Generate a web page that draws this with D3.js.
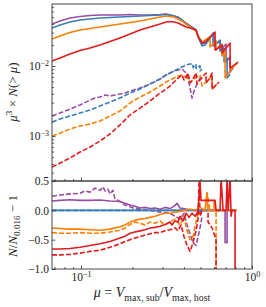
<!DOCTYPE html>
<html lang="en">
<head>
<meta charset="UTF-8">
<title>Subhalo velocity function</title>
<script src="https://d3js.org/d3.v7.min.js"></script>
<style>
    body { margin: 0; background: #fff; }
    text { font-family: "Liberation Serif", "DejaVu Serif", serif; fill: #222; }
</style>
</head>
<body>
<div id="chart"></div>
<script>
// [mu, mu^3 N(>mu)] solid = all subhaloes, dashed = second sample
const solidPurple = [[0.0677,0.0398],[0.0754,0.0439],[0.0862,0.0485],[0.0987,0.0509],[0.1129,0.0526],[0.1292,0.0535],[0.1478,0.0535],[0.1691,0.0535],[0.1935,0.0544],[0.2214,0.0535],[0.2533,0.0535],[0.29,0.0544],[0.3144,0.0553],[0.3318,0.0535],[0.3501,0.0518],[0.3694,0.0501],[0.3899,0.0454],[0.4115,0.0411],[0.4343,0.0373],[0.4709,0.0327],[0.4836,0.0268],[0.5105,0.0206],[0.5316,0.0213],[0.5535,0.0235],[0.5841,0.0277],[0.6,0.0296],[0.6,0.01995],[0.6333,0.022],[0.6506,0.0235],[0.6506,0.0169],[0.6866,0.0193],[0.7053,0.0206],[0.7053,0.0114],[0.7445,0.01345],[0.7445,0.00821],[0.775,0.00936]];
const solidBlue = [[0.0677,0.0349],[0.0754,0.0385],[0.0862,0.0425],[0.0987,0.0454],[0.1129,0.0469],[0.1292,0.0485],[0.1478,0.0493],[0.1691,0.0501],[0.1935,0.0509],[0.2214,0.0518],[0.2533,0.0526],[0.29,0.0535],[0.3144,0.0544],[0.3318,0.0535],[0.3501,0.0518],[0.3694,0.0493],[0.3899,0.0454],[0.4115,0.0405],[0.4343,0.0373],[0.4709,0.0327],[0.4836,0.026],[0.5105,0.0193],[0.5316,0.01995],[0.5535,0.0228],[0.5841,0.0277],[0.592,0.0296],[0.592,0.0193],[0.6248,0.0213],[0.6506,0.0228],[0.6506,0.0164],[0.6866,0.0181],[0.6866,0.0114],[0.715,0.013],[0.715,0.00674],[0.7445,0.00769]];
const solidOrange = [[0.0677,0.0243],[0.0754,0.0268],[0.0862,0.0301],[0.0987,0.0327],[0.1129,0.0343],[0.1292,0.0361],[0.1478,0.0379],[0.1691,0.0398],[0.1935,0.0418],[0.2214,0.0439],[0.2533,0.0469],[0.29,0.0501],[0.3144,0.0518],[0.3318,0.0509],[0.3501,0.0501],[0.3694,0.0469],[0.3899,0.0439],[0.4115,0.0398],[0.4343,0.0361],[0.4709,0.0316],[0.4836,0.0268],[0.5105,0.022],[0.5316,0.0235],[0.5686,0.026],[0.5686,0.0187],[0.6,0.0213],[0.6165,0.0228],[0.6165,0.0169],[0.6506,0.0193],[0.6683,0.0206],[0.6683,0.0139],[0.696,0.01585],[0.696,0.00674],[0.7445,0.00849],[0.7856,0.01],[0.8182,0.011]];
const solidRed = [[0.0677,0.0118],[0.0754,0.013],[0.0862,0.0148],[0.0987,0.0167],[0.1129,0.0181],[0.1292,0.01995],[0.1478,0.0224],[0.1691,0.0251],[0.1935,0.0286],[0.2214,0.0327],[0.2533,0.0361],[0.29,0.0398],[0.3144,0.0425],[0.3318,0.0432],[0.3501,0.0425],[0.3694,0.0411],[0.3899,0.0385],[0.4115,0.0361],[0.4343,0.0349],[0.4709,0.0327],[0.4836,0.0268],[0.5105,0.0213],[0.5316,0.022],[0.5686,0.026],[0.6082,0.0306],[0.6082,0.0169],[0.6419,0.0187],[0.6683,0.01995],[0.6683,0.0153],[0.7053,0.0181],[0.7445,0.0213],[0.7445,0.00936],[0.7856,0.0103],[0.8293,0.0114]];

const dashedPurple = [[0.0677,0.00193],[0.0754,0.00213],[0.0862,0.00243],[0.0987,0.00277],[0.1129,0.00327],[0.1207,0.00349],[0.1292,0.00361],[0.1381,0.00385],[0.1478,0.00373],[0.158,0.00385],[0.1691,0.00398],[0.1809,0.00411],[0.1935,0.00439],[0.2214,0.00485],[0.2533,0.00553],[0.29,0.00652],[0.3144,0.00744],[0.3318,0.00794],[0.3501,0.00849],[0.3694,0.00877],[0.3899,0.00906],[0.4115,0.00794],[0.4227,0.00674],[0.4343,0.00485],[0.4461,0.00349],[0.4582,0.00439],[0.4709,0.00518],[0.4836,0.00591],[0.4968,0.00674],[0.5105,0.0072]];
const dashedBlue = [[0.0677,0.00158],[0.0754,0.00175],[0.0862,0.00193],[0.0987,0.00213],[0.1129,0.00235],[0.1292,0.00268],[0.1478,0.00306],[0.1691,0.00349],[0.1935,0.00411],[0.2214,0.00469],[0.2533,0.00553],[0.29,0.00652],[0.3144,0.00744],[0.3318,0.00794],[0.3501,0.00849],[0.3694,0.00906],[0.3899,0.00968],[0.4115,0.01033],[0.4343,0.01068],[0.4521,0.0107],[0.4521,0.0095],[0.4709,0.0105],[0.4709,0.0092],[0.4968,0.0101],[0.4968,0.0085],[0.5105,0.009]];
const dashedOrange = [[0.0677,0.001],[0.0754,0.0011],[0.0862,0.00126],[0.0987,0.00139],[0.1129,0.00148],[0.1292,0.00164],[0.1478,0.00193],[0.1691,0.00228],[0.1935,0.00296],[0.2214,0.00361],[0.2533,0.00425],[0.29,0.00518],[0.3144,0.00591],[0.3318,0.00631],[0.3501,0.00674],[0.3694,0.0072],[0.3899,0.00744],[0.4115,0.00696],[0.4343,0.00591],[0.4582,0.00652],[0.4836,0.0072],[0.4968,0.00744],[0.5105,0.00518],[0.5389,0.00591],[0.5686,0.00674],[0.5841,0.0072],[0.5841,0.00469],[0.6082,0.00518],[0.6248,0.00553]];
const dashedRed = [[0.0677,0.000361],[0.0754,0.000411],[0.0862,0.000485],[0.0987,0.000591],[0.1129,0.000696],[0.1292,0.000849],[0.1478,0.00107],[0.1691,0.00144],[0.1935,0.002],[0.2214,0.00251],[0.2533,0.00316],[0.29,0.00411],[0.3144,0.00469],[0.3318,0.00518],[0.3501,0.00591],[0.3694,0.00674],[0.3899,0.00744],[0.4006,0.00631],[0.4115,0.00696],[0.4227,0.00794],[0.4343,0.00572],[0.4521,0.00652],[0.4709,0.00794],[0.4772,0.00553],[0.4968,0.00631],[0.5246,0.00744],[0.5389,0.00794],[0.5389,0.00572],[0.561,0.00652],[0.5841,0.00794],[0.5841,0.00469],[0.6165,0.00535],[0.6419,0.00591]];

// [mu, N/N_0.016 - 1]
const ratioPurple = [[0.0677,0.16],[0.0754,0.17],[0.0862,0.18],[0.0987,0.17],[0.1129,0.17],[0.1292,0.175],[0.1478,0.16],[0.1691,0.15],[0.1809,0.12],[0.1935,0.09],[0.207,0.07],[0.2214,0.04],[0.2368,0.05],[0.2533,0.03],[0.271,0.04],[0.29,0.02],[0.3102,0.05],[0.3318,0.03],[0.3548,0.08],[0.3644,0.12],[0.3796,0.04],[0.4115,0.02],[0.4343,0.01],[0.4709,0],[0.696,0],[0.696,-0.55],[0.715,-0.55],[0.715,0],[0.7647,0]];
const ratioPurpleDashed = [[0.0677,0.24],[0.0754,0.26],[0.0862,0.28],[0.0987,0.29],[0.1055,0.33],[0.1129,0.31],[0.1207,0.38],[0.1292,0.34],[0.1345,0.4],[0.1381,0.33],[0.1438,0.36],[0.1478,0.28],[0.1538,0.34],[0.158,0.2],[0.1691,0.15],[0.1809,0.09],[0.1935,0.06],[0.207,0.03],[0.2214,0.02],[0.2533,0],[0.29,-0.03],[0.3318,-0.05],[0.3548,-0.1],[0.3796,-0.15],[0.4006,-0.05],[0.4172,-0.25],[0.4343,-0.4],[0.4521,-0.55],[0.4709,-0.6],[0.4836,-0.45],[0.4968,-0.3],[0.5105,-0.1]];
const ratioBlue = [[0.0677,0],[0.8071,0]];
const ratioBlueDashed = [[0.0677,0],[0.5105,0]];
const ratioOrange = [[0.0677,-0.3],[0.0754,-0.31],[0.0862,-0.32],[0.0987,-0.32],[0.1129,-0.33],[0.1292,-0.34],[0.1478,-0.32],[0.1691,-0.28],[0.1809,-0.25],[0.1935,-0.2],[0.207,-0.17],[0.2214,-0.15],[0.2368,-0.14],[0.2533,-0.12],[0.271,-0.1],[0.29,-0.07],[0.3102,-0.05],[0.3318,-0.05],[0.3548,-0.03],[0.3796,-0.02],[0.4061,0],[0.4343,0.02],[0.4647,0],[0.4968,0.05],[0.5316,0],[0.5461,0.3],[0.5535,0],[0.6,0],[0.6,0.15],[0.6082,0.15],[0.6082,0],[0.8182,0]];
const ratioOrangeDashed = [[0.0677,-0.38],[0.0754,-0.39],[0.0862,-0.39],[0.0987,-0.38],[0.1129,-0.39],[0.1292,-0.39],[0.1478,-0.37],[0.1691,-0.34],[0.1809,-0.3],[0.1935,-0.24],[0.207,-0.2],[0.2214,-0.22],[0.2368,-0.25],[0.2533,-0.2],[0.271,-0.22],[0.29,-0.18],[0.3102,-0.25],[0.3318,-0.2],[0.3548,-0.15],[0.3796,-0.25],[0.4006,-0.1],[0.4172,-0.35],[0.4343,-0.5],[0.4521,-0.45],[0.4709,-0.2],[0.4836,-0.05],[0.4968,0],[0.5316,0],[0.5461,0.3],[0.5686,0],[0.6165,0],[0.6165,-1.1]];
const ratioRed = [[0.0677,-0.66],[0.0754,-0.66],[0.0862,-0.65],[0.0987,-0.63],[0.1129,-0.6],[0.1292,-0.57],[0.1478,-0.53],[0.1691,-0.47],[0.1809,-0.44],[0.1935,-0.39],[0.207,-0.37],[0.2214,-0.35],[0.2368,-0.33],[0.2533,-0.3],[0.271,-0.29],[0.29,-0.27],[0.3102,-0.24],[0.3318,-0.2],[0.3407,-0.25],[0.3548,-0.18],[0.3694,-0.2],[0.3796,-0.1],[0.3953,-0.18],[0.4115,-0.05],[0.4284,-0.12],[0.4461,-0.05],[0.4647,-0.1],[0.4836,-0.02],[0.4968,0.48],[0.5037,0.17],[0.6082,0.17],[0.6165,0],[0.6506,0],[0.6594,0.55],[0.6776,0],[0.7053,0],[0.715,0.55],[0.7247,0],[0.7445,0.55],[0.7545,-0.1],[0.7647,0],[0.7963,0],[0.7963,-1.1]];
const ratioRedDashed = [[0.0677,-0.76],[0.0754,-0.76],[0.0862,-0.75],[0.0987,-0.73],[0.1129,-0.7],[0.1292,-0.68],[0.1478,-0.63],[0.1691,-0.57],[0.1809,-0.53],[0.1935,-0.5],[0.207,-0.47],[0.2214,-0.45],[0.2368,-0.42],[0.2533,-0.4],[0.271,-0.38],[0.29,-0.38],[0.3102,-0.35],[0.3318,-0.33],[0.3548,-0.3],[0.3694,-0.35],[0.3848,-0.25],[0.4006,-0.45],[0.4172,-0.6],[0.4343,-0.7],[0.4521,-0.55],[0.4709,-0.35],[0.4836,-0.15],[0.4902,0.5],[0.4968,-0.1],[0.5105,0],[0.5535,0],[0.5535,-0.2],[0.5841,-0.3],[0.6165,-0.5],[0.6165,-1.1]];

const xTicksMajor = [0.1, 1];
const xTicksMinor = [0.07, 0.08, 0.09, 0.2, 0.3, 0.4, 0.5, 0.6, 0.7, 0.8, 0.9];
const yTopMajor = [1e-3, 1e-2];
const yTopMinor = [3e-4, 4e-4, 5e-4, 6e-4, 7e-4, 8e-4, 9e-4, 2e-3, 3e-3, 4e-3, 5e-3, 6e-3, 7e-3, 8e-3, 9e-3, 2e-2, 3e-2, 4e-2, 5e-2, 6e-2, 7e-2];
const yBotMajor = [-1.0, -0.5, 0.0, 0.5];

const colors = { purple: "#984ea3", blue: "#377eb8", orange: "#ff7f00", red: "#e41a1c" };

const W = 266, H = 307;
const xLeft = 52, xRight = 252, yTopEdge = 4, yMid = 181, yBottom = 269;

const svg = d3.select("#chart").append("svg").attr("width", W).attr("height", H);

const x = d3.scaleLog().domain([0.0677, 1.0]).range([xLeft, xRight]);
const yTop = d3.scaleLog().domain([2.28e-4, 0.0769]).range([yMid, yTopEdge]);
const yBot = d3.scaleLinear().domain([-1.0, 0.5]).range([yBottom, yMid]);

const defs = svg.append("defs");
defs.append("clipPath").attr("id", "clipTop").append("rect")
    .attr("x", xLeft).attr("y", yTopEdge).attr("width", xRight - xLeft).attr("height", yMid - yTopEdge);
defs.append("clipPath").attr("id", "clipBot").append("rect")
    .attr("x", xLeft).attr("y", yMid).attr("width", xRight - xLeft).attr("height", yBottom - yMid);

// mathtext-like label: parts = [{t, i (italic), sup, sub}]
function mathText(sel, parts, size) {
    let shift = 0;
    parts.forEach(p => {
        const ts = sel.append("tspan").text(p.t);
        const target = p.sup ? -size * 0.4 : p.sub ? size * 0.25 : 0;
        if (target !== shift) { ts.attr("dy", target - shift); shift = target; }
        if (p.sup || p.sub) ts.attr("font-size", size * 0.7);
        if (p.i) ts.attr("font-style", "italic");
    });
}

function drawLines(g, yScale, series) {
    const line = d3.line().x(d => x(d[0])).y(d => yScale(d[1]));
    series.forEach(s => {
        g.append("path")
            .attr("d", line(s.data))
            .attr("fill", "none")
            .attr("stroke", colors[s.c])
            .attr("stroke-width", 1.6)
            .attr("stroke-linejoin", "round")
            .attr("stroke-dasharray", s.dash ? "5,2" : null);
    });
}

const gTop = svg.append("g").attr("clip-path", "url(#clipTop)");
drawLines(gTop, yTop, [
    { data: dashedPurple, c: "purple", dash: true },
    { data: dashedBlue, c: "blue", dash: true },
    { data: dashedOrange, c: "orange", dash: true },
    { data: dashedRed, c: "red", dash: true },
    { data: solidPurple, c: "purple" },
    { data: solidBlue, c: "blue" },
    { data: solidOrange, c: "orange" },
    { data: solidRed, c: "red" }
]);

const gBot = svg.append("g").attr("clip-path", "url(#clipBot)");
drawLines(gBot, yBot, [
    { data: ratioPurpleDashed, c: "purple", dash: true },
    { data: ratioBlueDashed, c: "blue", dash: true },
    { data: ratioOrangeDashed, c: "orange", dash: true },
    { data: ratioRedDashed, c: "red", dash: true },
    { data: ratioPurple, c: "purple" },
    { data: ratioBlue, c: "blue" },
    { data: ratioOrange, c: "orange" },
    { data: ratioRed, c: "red" }
]);

// axes (ticks pointing inward)
function styleAxis(g) {
    g.select(".domain").remove();
    g.selectAll(".tick line").attr("stroke", "#333").attr("stroke-width", 0.8);
    g.attr("font-family", null).attr("font-size", null);
}

const supLabel = e => [{ t: "10" }, { t: e, sup: true }];

// top panel
svg.append("g").attr("transform", `translate(${xLeft},0)`)
    .call(d3.axisLeft(yTop).tickValues(yTopMinor).tickSize(-2).tickFormat(""))
    .call(styleAxis);
svg.append("g").attr("transform", `translate(${xLeft},0)`)
    .call(d3.axisLeft(yTop).tickValues(yTopMajor).tickSize(-3.5).tickPadding(3))
    .call(styleAxis)
    .selectAll(".tick text").text("").attr("font-size", 11.5)
    .each(function(d) { mathText(d3.select(this), supLabel(d === 1e-2 ? "−2" : "−3"), 11.5); });
svg.append("g").attr("transform", `translate(0,${yMid})`)
    .call(d3.axisBottom(x).tickValues(xTicksMinor).tickSize(-2).tickFormat(""))
    .call(styleAxis);
svg.append("g").attr("transform", `translate(0,${yMid})`)
    .call(d3.axisBottom(x).tickValues(xTicksMajor).tickSize(-3.5).tickFormat(""))
    .call(styleAxis);

// bottom panel
svg.append("g").attr("transform", `translate(${xLeft},0)`)
    .call(d3.axisLeft(yBot).tickValues(yBotMajor).tickSize(-3.5).tickPadding(3)
        .tickFormat(d => d < 0 ? "−" + d3.format(".1f")(-d) : d3.format(".1f")(d)))
    .call(styleAxis)
    .selectAll(".tick text").attr("font-size", 11.5);
svg.append("g").attr("transform", `translate(0,${yBottom})`)
    .call(d3.axisBottom(x).tickValues(xTicksMinor).tickSize(-2).tickFormat(""))
    .call(styleAxis);
svg.append("g").attr("transform", `translate(0,${yBottom})`)
    .call(d3.axisBottom(x).tickValues(xTicksMajor).tickSize(-3.5).tickPadding(4))
    .call(styleAxis)
    .selectAll(".tick text").text("").attr("font-size", 11.5)
    .each(function(d) { mathText(d3.select(this), supLabel(d === 1 ? "0" : "−1"), 11.5); });

// frames
[[yTopEdge, yMid], [yMid, yBottom]].forEach(([y0, y1]) => {
    svg.append("rect")
        .attr("x", xLeft).attr("y", y0).attr("width", xRight - xLeft).attr("height", y1 - y0)
        .attr("fill", "none").attr("stroke", "#333").attr("stroke-width", 0.9);
});

// axis titles
const yl1 = svg.append("text").attr("text-anchor", "middle").attr("font-size", 13)
    .attr("transform", "translate(17,92) rotate(-90)");
mathText(yl1, [{ t: "μ", i: true }, { t: "3", sup: true }, { t: " × " }, { t: "N", i: true }, { t: "(> " }, { t: "μ", i: true }, { t: ")" }], 13);

const yl2 = svg.append("text").attr("text-anchor", "middle").attr("font-size", 13)
    .attr("transform", "translate(17,226) rotate(-90)");
mathText(yl2, [{ t: "N", i: true }, { t: "/" }, { t: "N", i: true }, { t: "0.016", sub: true }, { t: " − 1" }], 13);

const xl = svg.append("text").attr("text-anchor", "middle").attr("font-size", 14)
    .attr("x", 152).attr("y", 297);
mathText(xl, [{ t: "μ", i: true }, { t: " = " }, { t: "V", i: true }, { t: "max, sub", sub: true }, { t: "/" }, { t: "V", i: true }, { t: "max, host", sub: true }], 14);
</script>
</body>
</html>
